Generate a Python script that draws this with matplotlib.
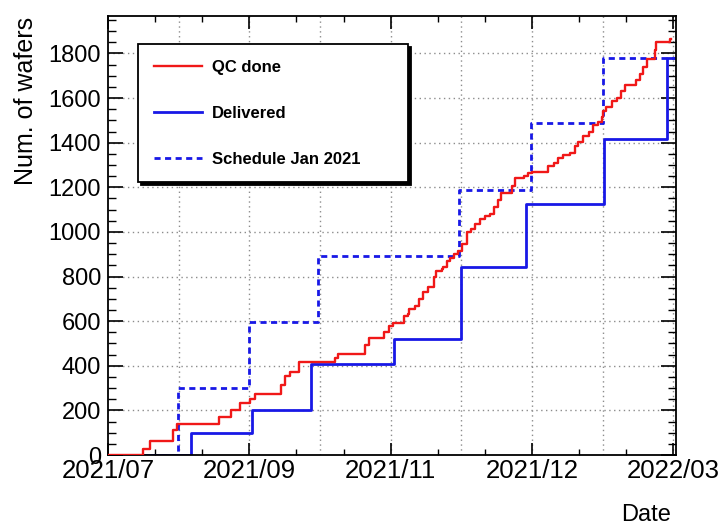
import matplotlib
matplotlib.use("Agg")
import matplotlib.pyplot as plt
from matplotlib.ticker import MultipleLocator, FixedLocator

plt.rcParams['font.family'] = ['Liberation Sans', 'DejaVu Sans']

# days since 2021/07/01
qc_day = [0, 15, 18, 28, 29.5, 47.5, 53, 56.5, 61, 63, 74.5, 76, 78, 82, 97.5, 99,
          110.5, 112, 118.5, 120.5, 122.5, 127, 129, 129.5, 132, 133.5, 135.5, 137.5,
          140, 141, 143.5, 144, 145.5, 147, 148.5, 150.5, 152, 154, 156, 157.5, 160,
          162, 164, 166, 167.5, 169, 173.5, 175, 178.5, 180.5, 182, 189, 191.5, 193.5,
          195.5, 198.5, 200.5, 202, 204, 206.5, 208.5, 210.5, 212, 212.5, 214, 216.5,
          218.5, 220.5, 222, 227, 228.5, 230, 231.5, 235, 235.5, 241.5, 242]
qc_count = [0, 25, 65, 110, 140, 170, 200, 235, 250, 275, 315, 355, 370, 415, 435, 455,
            495, 525, 550, 580, 590, 625, 630, 655, 670, 700, 730, 755, 800, 825, 835,
            845, 870, 885, 900, 915, 945, 1000, 1015, 1035, 1060, 1070, 1080, 1110, 1145,
            1175, 1205, 1240, 1250, 1265, 1270, 1295, 1310, 1330, 1345, 1355, 1385, 1405,
            1430, 1450, 1480, 1495, 1515, 1540, 1560, 1585, 1600, 1630, 1660, 1680, 1710,
            1740, 1775, 1815, 1850, 1865, 1865]

deliv_day = [0, 35.7, 61.9, 87.2, 122.9, 151.6, 179.6, 213.1, 240.1, 242.7]
deliv_count = [0, 100, 200, 410, 520, 845, 1125, 1415, 1780, 1780]

sched_day = [0, 30.1, 60.6, 90.0, 150.8, 181.7, 212.6, 244]
sched_count = [0, 300, 595, 890, 1190, 1490, 1780, 1780]

tick_labels = ['2021/07', '2021/09', '2021/11', '2021/12', '2022/03']

red = '#f01818'
blue = '#1818e6'

fig = plt.figure(figsize=(7.23, 5.30), dpi=100)
ax = fig.add_axes([0.1494, 0.1415, 0.7856, 0.8283])

# grid (ROOT style dotted)
step = 30.35
for k in range(1, 9):
    ax.axvline(k * step, color='#8c8c8c', lw=1.0, ls=(0, (1, 2.5)), zorder=0)
for v in range(200, 2000, 200):
    ax.axhline(v, color='#8c8c8c', lw=1.0, ls=(0, (1, 2.5)), zorder=0)

ax.step(deliv_day, deliv_count, where='post', color=blue, lw=2.0, label='Delivered', zorder=2)
ax.step(sched_day, sched_count, where='post', color=blue, lw=2.0, ls=(0, (2.2, 1.6)),
        label='Schedule Jan 2021', zorder=2)
ax.step(qc_day, qc_count, where='post', color=red, lw=1.7, label='QC done', zorder=3)

ax.set_xlim(0, 244)
ax.set_ylim(0, 1968)

major = [0, 60.7, 121.4, 182.1, 242.8]
ax.xaxis.set_major_locator(FixedLocator(major))
ax.set_xticklabels(tick_labels)
ax.xaxis.set_minor_locator(FixedLocator([i * 60.7 / 3 for i in range(13)]))
ax.yaxis.set_major_locator(MultipleLocator(200))
ax.yaxis.set_minor_locator(MultipleLocator(50))

ax.tick_params(axis='both', which='both', direction='in', top=True, right=True, color='black')
ax.tick_params(axis='x', which='major', length=9, width=1.2, labelsize=18.5, pad=3)
ax.tick_params(axis='x', which='minor', length=4.5, width=1.0)
ax.tick_params(axis='y', which='major', length=11, width=1.2, labelsize=17, pad=5)
ax.tick_params(axis='y', which='minor', length=5.5, width=1.0)
for s in ax.spines.values():
    s.set_linewidth(1.3)

ax.set_ylabel('Num. of wafers', fontsize=18)
ax.yaxis.set_label_coords(-0.123, 0.806)
ax.set_xlabel('Date', fontsize=17)
ax.xaxis.set_label_coords(0.948, -0.112)

handles, labels = ax.get_legend_handles_labels()
order = [2, 0, 1]
leg = ax.legend([handles[i] for i in order], [labels[i] for i in order],
                loc='upper left', bbox_to_anchor=(0.0528, 0.62, 0.475, 0.316),
                mode='expand', borderaxespad=0, fancybox=False, frameon=True,
                edgecolor='black', framealpha=1, handlelength=2.9, handletextpad=0.6,
                labelspacing=1.85, borderpad=0.95,
                prop={'weight': 'bold', 'size': 12},
                shadow={'color': 'black', 'alpha': 1})
leg.get_frame().set_linewidth(1.3)
leg.set_zorder(5)

fig.savefig('out.png', dpi=100)
